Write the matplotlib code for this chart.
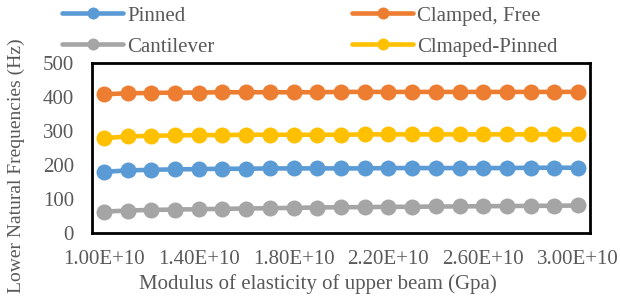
import numpy as np
import matplotlib
matplotlib.use("Agg")
import matplotlib.pyplot as plt

plt.rcParams['font.family'] = ['Liberation Serif', 'DejaVu Serif']

modulus = np.arange(21) * 0.1e10 + 1.0e10
pinned = [180, 184, 186, 187, 188, 189, 189, 190, 190, 190, 190, 190, 191, 191, 191, 191, 191, 191, 192, 192, 192]
clamped_free = [408, 411, 412, 413, 413, 414, 414, 414, 414, 414, 415, 415, 415, 415, 415, 415, 415, 415, 415, 415, 415]
cantilever = [63, 66, 68, 69, 70, 71, 72, 73, 74, 75, 76, 76, 77, 77, 78, 78, 79, 79, 80, 80, 81]
clamped_pinned = [279, 284, 286, 287, 288, 288, 289, 289, 289, 289, 289, 290, 290, 290, 290, 290, 290, 290, 290, 290, 290]
xtick_values = [1.0e10, 1.4e10, 1.8e10, 2.2e10, 2.6e10, 3.0e10]
xtick_labels = ["1.00E+10", "1.40E+10", "1.80E+10", "2.20E+10", "2.60E+10", "3.00E+10"]
yticks = [0, 100, 200, 300, 400, 500]

TXT = '#595959'
fig = plt.figure(figsize=(6.2, 2.97), dpi=100)
ax = fig.add_axes([92/620, 1-233/297, (590-92)/620, (233-63)/297])

series = [
    ("Pinned", pinned, "#5B9BD5"),
    ("Clamped, Free", clamped_free, "#ED7D31"),
    ("Cantilever", cantilever, "#A5A5A5"),
    ("Clmaped-Pinned", clamped_pinned, "#FFC000"),
]
handles = {}
for name, vals, col in series:
    h, = ax.plot(modulus, vals, color=col, lw=3.3, marker='o', ms=11.5,
                 markeredgewidth=0, label=name, solid_capstyle='round')
    handles[name] = h

step = modulus[1] - modulus[0]
ax.set_xlim(modulus[0] - step/2, modulus[-1] + step/2)
ax.set_ylim(0, 500)
ax.set_yticks(yticks)
ax.set_yticklabels([str(v) for v in yticks])
ax.set_xticks(xtick_values)
ax.set_xticklabels(xtick_labels)

ax.tick_params(axis='both', length=0, labelsize=15, colors=TXT)
ax.tick_params(axis='x', pad=12)
ax.tick_params(axis='y', pad=13)
for sp in ax.spines.values():
    sp.set_color('black')
    sp.set_linewidth(2)

ax.set_xlabel("Modulus of elasticity of upper beam (Gpa)", fontsize=15, color=TXT)
ax.xaxis.label.set_verticalalignment('center')
ax.xaxis.set_label_coords((318 - 92) / 498, -(284 - 233) / 170)
ax.set_ylabel("Lower Natural Frequencies (Hz)", fontsize=14, color=TXT)
ax.yaxis.label.set_verticalalignment('center')
ax.yaxis.set_label_coords(-(92 - 16) / 498, (233 - 166) / 170)

order = ["Pinned", "Cantilever", "Clamped, Free", "Clmaped-Pinned"]
leg = fig.legend([handles[k] for k in order], order, ncol=2, loc='upper left',
                 bbox_to_anchor=(62/620, 1 - 6/297), frameon=False, fontsize=15,
                 handlelength=2.93, handletextpad=0.2, columnspacing=6.6,
                 labelspacing=0.55, borderaxespad=0.0, borderpad=0.0,
                 markerscale=0.75)
for t in leg.get_texts():
    t.set_color(TXT)

fig.savefig("out.png", dpi=100)
